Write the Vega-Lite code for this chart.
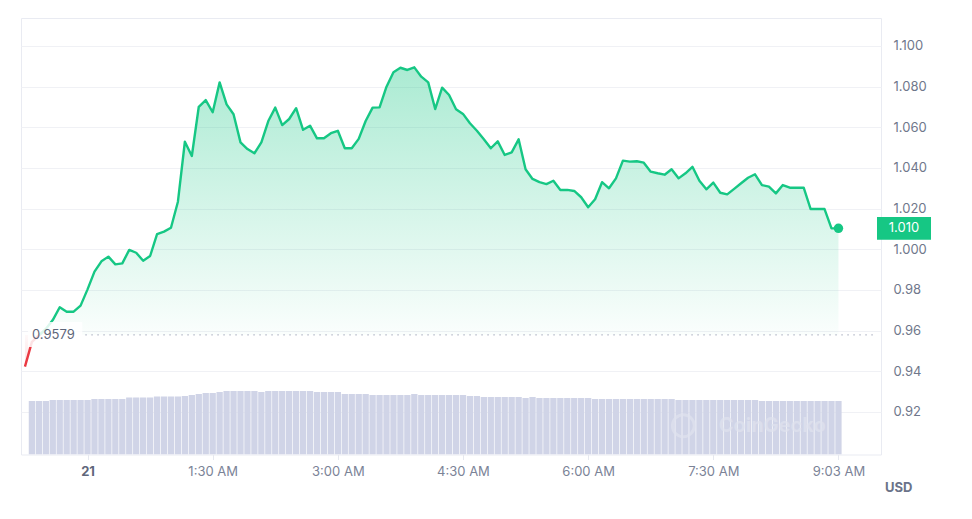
{
  "$schema": "https://vega.github.io/schema/vega-lite/v6.json",
  "width": 860,
  "height": 436.5,
  "autosize": {"type": "none"},
  "padding": {"left": 21, "top": 18, "right": 91, "bottom": 64.5},
  "background": "white",
  "config": {
    "view": {"stroke": "#e9ebf2"},
    "font": "Inter",
    "text": {"font": "Inter"}
  },
  "data": {
    "values": [
      {"time": "2024-05-20T23:18:00Z", "price": 0.9423},
      {"time": "2024-05-20T23:23:00Z", "price": 0.9545, "volume": 12.27},
      {"time": "2024-05-20T23:28:00Z", "price": 0.9576, "volume": 12.27},
      {"time": "2024-05-20T23:33:00Z", "price": 0.9608, "volume": 12.27},
      {"time": "2024-05-20T23:38:00Z", "price": 0.9652, "volume": 12.50},
      {"time": "2024-05-20T23:43:00Z", "price": 0.9715, "volume": 12.50},
      {"time": "2024-05-20T23:48:00Z", "price": 0.9693, "volume": 12.50},
      {"time": "2024-05-20T23:53:00Z", "price": 0.9693, "volume": 12.50},
      {"time": "2024-05-20T23:58:00Z", "price": 0.9723, "volume": 12.50},
      {"time": "2024-05-21T00:03:00Z", "price": 0.9803, "volume": 12.50},
      {"time": "2024-05-21T00:08:00Z", "price": 0.9890, "volume": 12.73},
      {"time": "2024-05-21T00:13:00Z", "price": 0.9941, "volume": 12.73},
      {"time": "2024-05-21T00:18:00Z", "price": 0.9964, "volume": 12.73},
      {"time": "2024-05-21T00:23:00Z", "price": 0.9926, "volume": 12.73},
      {"time": "2024-05-21T00:28:00Z", "price": 0.9931, "volume": 12.73},
      {"time": "2024-05-21T00:33:00Z", "price": 0.9997, "volume": 13.03},
      {"time": "2024-05-21T00:38:00Z", "price": 0.9983, "volume": 13.03},
      {"time": "2024-05-21T00:43:00Z", "price": 0.9944, "volume": 13.03},
      {"time": "2024-05-21T00:48:00Z", "price": 0.9967, "volume": 13.03},
      {"time": "2024-05-21T00:53:00Z", "price": 1.0075, "volume": 13.26},
      {"time": "2024-05-21T00:58:00Z", "price": 1.0087, "volume": 13.26},
      {"time": "2024-05-21T01:03:00Z", "price": 1.0106, "volume": 13.26},
      {"time": "2024-05-21T01:08:00Z", "price": 1.0234, "volume": 13.26},
      {"time": "2024-05-21T01:13:00Z", "price": 1.0529, "volume": 13.42},
      {"time": "2024-05-21T01:18:00Z", "price": 1.0459, "volume": 13.65},
      {"time": "2024-05-21T01:23:00Z", "price": 1.0701, "volume": 13.88},
      {"time": "2024-05-21T01:28:00Z", "price": 1.0734, "volume": 14.11},
      {"time": "2024-05-21T01:33:00Z", "price": 1.0674, "volume": 14.11},
      {"time": "2024-05-21T01:38:00Z", "price": 1.0821, "volume": 14.33},
      {"time": "2024-05-21T01:43:00Z", "price": 1.0713, "volume": 14.56},
      {"time": "2024-05-21T01:48:00Z", "price": 1.0664, "volume": 14.56},
      {"time": "2024-05-21T01:53:00Z", "price": 1.0526, "volume": 14.56},
      {"time": "2024-05-21T01:58:00Z", "price": 1.0493, "volume": 14.56},
      {"time": "2024-05-21T02:03:00Z", "price": 1.0472, "volume": 14.56},
      {"time": "2024-05-21T02:08:00Z", "price": 1.0526, "volume": 14.33},
      {"time": "2024-05-21T02:13:00Z", "price": 1.0631, "volume": 14.56},
      {"time": "2024-05-21T02:18:00Z", "price": 1.0697, "volume": 14.56},
      {"time": "2024-05-21T02:23:00Z", "price": 1.0611, "volume": 14.56},
      {"time": "2024-05-21T02:28:00Z", "price": 1.0641, "volume": 14.56},
      {"time": "2024-05-21T02:33:00Z", "price": 1.0694, "volume": 14.56},
      {"time": "2024-05-21T02:38:00Z", "price": 1.0588, "volume": 14.56},
      {"time": "2024-05-21T02:43:00Z", "price": 1.0608, "volume": 14.56},
      {"time": "2024-05-21T02:48:00Z", "price": 1.0546, "volume": 14.33},
      {"time": "2024-05-21T02:53:00Z", "price": 1.0546, "volume": 14.33},
      {"time": "2024-05-21T02:58:00Z", "price": 1.0571, "volume": 14.33},
      {"time": "2024-05-21T03:03:00Z", "price": 1.0583, "volume": 14.33},
      {"time": "2024-05-21T03:08:00Z", "price": 1.0497, "volume": 13.88},
      {"time": "2024-05-21T03:13:00Z", "price": 1.0497, "volume": 13.88},
      {"time": "2024-05-21T03:18:00Z", "price": 1.0543, "volume": 13.88},
      {"time": "2024-05-21T03:23:00Z", "price": 1.0631, "volume": 13.88},
      {"time": "2024-05-21T03:28:00Z", "price": 1.0697, "volume": 13.65},
      {"time": "2024-05-21T03:33:00Z", "price": 1.0698, "volume": 13.65},
      {"time": "2024-05-21T03:38:00Z", "price": 1.0800, "volume": 13.65},
      {"time": "2024-05-21T03:43:00Z", "price": 1.0871, "volume": 13.65},
      {"time": "2024-05-21T03:48:00Z", "price": 1.0893, "volume": 13.65},
      {"time": "2024-05-21T03:53:00Z", "price": 1.0882, "volume": 13.65},
      {"time": "2024-05-21T03:58:00Z", "price": 1.0895, "volume": 13.88},
      {"time": "2024-05-21T04:03:00Z", "price": 1.0849, "volume": 13.65},
      {"time": "2024-05-21T04:08:00Z", "price": 1.0821, "volume": 13.65},
      {"time": "2024-05-21T04:13:00Z", "price": 1.0690, "volume": 13.65},
      {"time": "2024-05-21T04:18:00Z", "price": 1.0795, "volume": 13.65},
      {"time": "2024-05-21T04:23:00Z", "price": 1.0759, "volume": 13.65},
      {"time": "2024-05-21T04:28:00Z", "price": 1.0689, "volume": 13.65},
      {"time": "2024-05-21T04:33:00Z", "price": 1.0666, "volume": 13.65},
      {"time": "2024-05-21T04:38:00Z", "price": 1.0620, "volume": 13.42},
      {"time": "2024-05-21T04:43:00Z", "price": 1.0583, "volume": 13.42},
      {"time": "2024-05-21T04:48:00Z", "price": 1.0541, "volume": 13.19},
      {"time": "2024-05-21T04:53:00Z", "price": 1.0497, "volume": 13.19},
      {"time": "2024-05-21T04:58:00Z", "price": 1.0531, "volume": 13.19},
      {"time": "2024-05-21T05:03:00Z", "price": 1.0464, "volume": 13.19},
      {"time": "2024-05-21T05:08:00Z", "price": 1.0477, "volume": 13.19},
      {"time": "2024-05-21T05:13:00Z", "price": 1.0541, "volume": 13.19},
      {"time": "2024-05-21T05:18:00Z", "price": 1.0394, "volume": 12.96},
      {"time": "2024-05-21T05:23:00Z", "price": 1.0346, "volume": 13.19},
      {"time": "2024-05-21T05:28:00Z", "price": 1.0330, "volume": 12.96},
      {"time": "2024-05-21T05:33:00Z", "price": 1.0321, "volume": 12.96},
      {"time": "2024-05-21T05:38:00Z", "price": 1.0337, "volume": 12.96},
      {"time": "2024-05-21T05:43:00Z", "price": 1.0292, "volume": 12.96},
      {"time": "2024-05-21T05:48:00Z", "price": 1.0292, "volume": 12.96},
      {"time": "2024-05-21T05:53:00Z", "price": 1.0287, "volume": 12.96},
      {"time": "2024-05-21T05:58:00Z", "price": 1.0256, "volume": 12.96},
      {"time": "2024-05-21T06:03:00Z", "price": 1.0207, "volume": 12.96},
      {"time": "2024-05-21T06:08:00Z", "price": 1.0246, "volume": 12.73},
      {"time": "2024-05-21T06:13:00Z", "price": 1.0330, "volume": 12.73},
      {"time": "2024-05-21T06:18:00Z", "price": 1.0300, "volume": 12.73},
      {"time": "2024-05-21T06:23:00Z", "price": 1.0349, "volume": 12.73},
      {"time": "2024-05-21T06:28:00Z", "price": 1.0436, "volume": 12.73},
      {"time": "2024-05-21T06:33:00Z", "price": 1.0431, "volume": 12.73},
      {"time": "2024-05-21T06:38:00Z", "price": 1.0433, "volume": 12.73},
      {"time": "2024-05-21T06:43:00Z", "price": 1.0426, "volume": 12.73},
      {"time": "2024-05-21T06:48:00Z", "price": 1.0382, "volume": 12.73},
      {"time": "2024-05-21T06:53:00Z", "price": 1.0374, "volume": 12.73},
      {"time": "2024-05-21T06:58:00Z", "price": 1.0367, "volume": 12.73},
      {"time": "2024-05-21T07:03:00Z", "price": 1.0394, "volume": 12.73},
      {"time": "2024-05-21T07:08:00Z", "price": 1.0349, "volume": 12.50},
      {"time": "2024-05-21T07:13:00Z", "price": 1.0374, "volume": 12.50},
      {"time": "2024-05-21T07:18:00Z", "price": 1.0406, "volume": 12.50},
      {"time": "2024-05-21T07:23:00Z", "price": 1.0337, "volume": 12.50},
      {"time": "2024-05-21T07:28:00Z", "price": 1.0295, "volume": 12.50},
      {"time": "2024-05-21T07:33:00Z", "price": 1.0328, "volume": 12.50},
      {"time": "2024-05-21T07:38:00Z", "price": 1.0278, "volume": 12.50},
      {"time": "2024-05-21T07:43:00Z", "price": 1.0270, "volume": 12.50},
      {"time": "2024-05-21T07:48:00Z", "price": 1.0297, "volume": 12.50},
      {"time": "2024-05-21T07:53:00Z", "price": 1.0325, "volume": 12.50},
      {"time": "2024-05-21T07:58:00Z", "price": 1.0352, "volume": 12.50},
      {"time": "2024-05-21T08:03:00Z", "price": 1.0369, "volume": 12.50},
      {"time": "2024-05-21T08:08:00Z", "price": 1.0316, "volume": 12.27},
      {"time": "2024-05-21T08:13:00Z", "price": 1.0308, "volume": 12.27},
      {"time": "2024-05-21T08:18:00Z", "price": 1.0275, "volume": 12.27},
      {"time": "2024-05-21T08:23:00Z", "price": 1.0316, "volume": 12.27},
      {"time": "2024-05-21T08:28:00Z", "price": 1.0303, "volume": 12.27},
      {"time": "2024-05-21T08:33:00Z", "price": 1.0303, "volume": 12.27},
      {"time": "2024-05-21T08:38:00Z", "price": 1.0303, "volume": 12.27},
      {"time": "2024-05-21T08:43:00Z", "price": 1.0198, "volume": 12.27},
      {"time": "2024-05-21T08:48:00Z", "price": 1.0198, "volume": 12.27},
      {"time": "2024-05-21T08:53:00Z", "price": 1.0198, "volume": 12.27},
      {"time": "2024-05-21T08:58:00Z", "price": 1.0103, "volume": 12.27},
      {"time": "2024-05-21T09:03:00Z", "price": 1.0103, "volume": 12.27}
    ]
  },
  "layer": [
    {
      "mark": {"type": "bar", "width": 6.3, "color": "#d0d4e7", "clip": true},
      "encoding": {
        "x": {
          "field": "time",
          "type": "temporal",
          "scale": {
            "type": "utc",
            "domain": [
              {"year": 2024, "month": 5, "date": 20, "hours": 23, "minutes": 18, "seconds": 45, "utc": true},
              {"year": 2024, "month": 5, "date": 21, "hours": 9, "minutes": 30, "seconds": 0, "utc": true}
            ]
          },
          "axis": {
            "orient": "bottom",
            "title": null,
            "grid": false,
            "domain": false,
            "tickSize": 5,
            "tickColor": "#e6e8ef",
            "labelPadding": 6,
            "labelFontSize": 13,
            "labelFont": "Inter",
            "labelOverlap": false,
            "labelFlush": false,
            "labelColor": {"condition": {"test": "utchours(datum.value) == 0", "value": "#5f677b"}, "value": "#7b8397"},
            "labelFontWeight": {"condition": {"test": "utchours(datum.value) == 0", "value": "bold"}, "value": "normal"},
            "values": [
              {"year": 2024, "month": 5, "date": 21, "hours": 0, "minutes": 3, "utc": true},
              {"year": 2024, "month": 5, "date": 21, "hours": 1, "minutes": 33, "utc": true},
              {"year": 2024, "month": 5, "date": 21, "hours": 3, "minutes": 3, "utc": true},
              {"year": 2024, "month": 5, "date": 21, "hours": 4, "minutes": 33, "utc": true},
              {"year": 2024, "month": 5, "date": 21, "hours": 6, "minutes": 3, "utc": true},
              {"year": 2024, "month": 5, "date": 21, "hours": 7, "minutes": 33, "utc": true},
              {"year": 2024, "month": 5, "date": 21, "hours": 9, "minutes": 3, "utc": true}
            ],
            "labelExpr": "utchours(datum.value) == 0 ? '21' : (utchours(datum.value) == 9 ? utcFormat(datum.value, '%-I:%M %p') : utcFormat(floor(datum.value / 1800000) * 1800000, '%-I:%M %p'))"
          }
        },
        "y": {"field": "volume", "type": "quantitative", "scale": {"domain": [0, 100], "nice": false}, "axis": null}
      }
    },
    {
      "layer": [
        {
          "mark": {
            "type": "area",
            "clip": true,
            "fill": {
              "gradient": "linear",
              "x1": 0, "y1": 0, "x2": 0, "y2": 1,
              "stops": [
                {"offset": 0, "color": "rgba(22,199,132,0.36)"},
                {"offset": 0.894, "color": "rgba(22,199,132,0.02)"},
                {"offset": 0.894, "color": "rgba(234,57,67,0.03)"},
                {"offset": 1, "color": "rgba(234,57,67,0.15)"}
              ]
            }
          },
          "encoding": {
            "x": {"field": "time", "type": "temporal"},
            "y": {
              "field": "price",
              "type": "quantitative",
              "scale": {"domain": [0.89907, 1.11377], "nice": false, "zero": false},
              "axis": {
                "orient": "right",
                "title": null,
                "values": [0.92, 0.94, 0.96, 0.98, 1.0, 1.02, 1.04, 1.06, 1.08, 1.1],
                "grid": true,
                "gridColor": "#f0f1f5",
                "ticks": false,
                "domain": false,
                "labelAlign": "left",
                "labelPadding": 12,
                "labelFontSize": 13,
                "labelFont": "Inter",
                "labelColor": "#6f778b",
                "labelExpr": "datum.value >= 0.999 ? format(datum.value, '.3f') : format(datum.value, '.2f')"
              }
            },
            "y2": {"datum": 0.9579}
          }
        },
        {
          "mark": {
            "type": "line",
            "clip": true,
            "strokeWidth": 2.4,
            "strokeJoin": "round",
            "color": {
              "gradient": "linear",
              "x1": 0, "y1": 0, "x2": 0, "y2": 1,
              "stops": [
                {"offset": 0, "color": "#16c784"},
                {"offset": 0.894, "color": "#16c784"},
                {"offset": 0.894, "color": "#ea3943"},
                {"offset": 1, "color": "#ea3943"}
              ]
            }
          },
          "encoding": {
            "x": {"field": "time", "type": "temporal"},
            "y": {"field": "price", "type": "quantitative"}
          }
        },
        {
          "transform": [
            {"window": [{"op": "row_number", "as": "rn"}], "sort": [{"field": "time", "order": "descending"}]},
            {"filter": "datum.rn == 1"}
          ],
          "mark": {"type": "point", "filled": true, "size": 90, "color": "#16c784", "opacity": 1},
          "encoding": {
            "x": {"field": "time", "type": "temporal"},
            "y": {"field": "price", "type": "quantitative"}
          }
        },
        {
          "data": {"values": [{}]},
          "mark": {"type": "rule", "strokeDash": [1.5, 4.5], "color": "#a3a9ba", "strokeWidth": 1},
          "encoding": {
            "x": {"datum": {"year": 2024, "month": 5, "date": 21, "hours": 0, "minutes": 1, "seconds": 24, "utc": true}, "type": "temporal"},
            "x2": {"datum": {"year": 2024, "month": 5, "date": 21, "hours": 9, "minutes": 30, "utc": true}},
            "y": {"datum": 0.9579}
          }
        },
        {
          "data": {"values": [{}]},
          "mark": {"type": "rect", "fill": "white", "opacity": 0.85},
          "encoding": {
            "x": {"datum": {"year": 2024, "month": 5, "date": 20, "hours": 23, "minutes": 20, "seconds": 10, "utc": true}, "type": "temporal"},
            "x2": {"datum": {"year": 2024, "month": 5, "date": 20, "hours": 23, "minutes": 59, "seconds": 16, "utc": true}},
            "y": {"datum": 0.96424},
            "y2": {"datum": 0.95194}
          }
        },
        {
          "data": {"values": [{}]},
          "mark": {"type": "text", "align": "left", "baseline": "middle", "fontSize": 13, "color": "#5e667a", "font": "Inter"},
          "encoding": {
            "x": {"datum": {"year": 2024, "month": 5, "date": 20, "hours": 23, "minutes": 23, "seconds": 1, "utc": true}, "type": "temporal"},
            "y": {"datum": 0.9579},
            "text": {"value": "0.9579"}
          }
        },
        {
          "data": {"values": [{}]},
          "mark": {"type": "point", "shape": "circle", "filled": false, "size": 480, "stroke": "#e0e3ef", "strokeWidth": 3, "opacity": 0.7},
          "encoding": {
            "x": {"datum": {"year": 2024, "month": 5, "date": 21, "hours": 7, "minutes": 11, "seconds": 27, "utc": true}, "type": "temporal"},
            "y": {"datum": 0.91323}
          }
        },
        {
          "data": {"values": [{}]},
          "mark": {"type": "text", "align": "center", "baseline": "middle", "fontSize": 20, "fontWeight": "bold", "color": "#e0e3ef", "opacity": 0.7, "font": "Inter"},
          "encoding": {
            "x": {"datum": {"year": 2024, "month": 5, "date": 21, "hours": 8, "minutes": 15, "seconds": 21, "utc": true}, "type": "temporal"},
            "y": {"datum": 0.91323},
            "text": {"value": "CoinGecko"}
          }
        },
        {
          "data": {"values": [{}]},
          "mark": {"type": "rect", "fill": "#16c784", "clip": false},
          "encoding": {
            "x": {"datum": {"year": 2024, "month": 5, "date": 21, "hours": 9, "minutes": 30, "seconds": 43, "utc": true}, "type": "temporal"},
            "x2": {"datum": {"year": 2024, "month": 5, "date": 21, "hours": 10, "minutes": 9, "seconds": 33, "utc": true}},
            "y": {"datum": 1.01589},
            "y2": {"datum": 1.00472}
          }
        },
        {
          "transform": [
            {"window": [{"op": "row_number", "as": "rn"}], "sort": [{"field": "time", "order": "descending"}]},
            {"filter": "datum.rn == 1"}
          ],
          "mark": {"type": "text", "align": "center", "baseline": "middle", "fontSize": 13, "color": "white", "font": "Inter", "clip": false},
          "encoding": {
            "x": {"datum": {"year": 2024, "month": 5, "date": 21, "hours": 9, "minutes": 50, "seconds": 9, "utc": true}, "type": "temporal"},
            "y": {"field": "price", "type": "quantitative"},
            "text": {"field": "price", "type": "quantitative", "format": ".3f"}
          }
        },
        {
          "data": {"values": [{}]},
          "mark": {"type": "text", "align": "center", "baseline": "middle", "fontSize": 13, "fontWeight": "bold", "color": "#6b7389", "font": "Inter", "clip": false},
          "encoding": {
            "x": {"datum": {"year": 2024, "month": 5, "date": 21, "hours": 9, "minutes": 46, "seconds": 21, "utc": true}, "type": "temporal"},
            "y": {"datum": 0.88259},
            "text": {"value": "USD"}
          }
        }
      ]
    }
  ],
  "resolve": {"scale": {"y": "independent"}}
}
